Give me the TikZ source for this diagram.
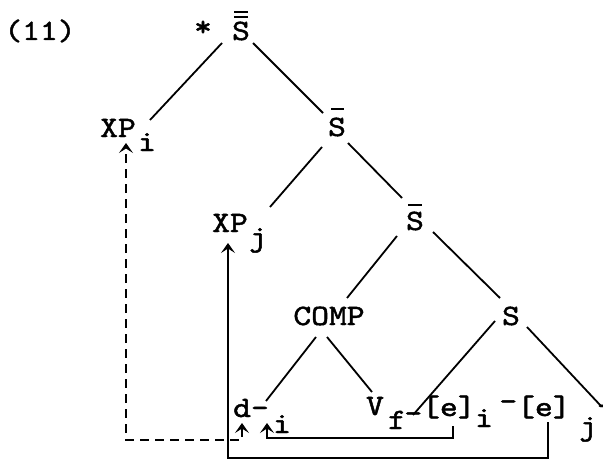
\documentclass[tikz,border=0pt]{standalone}
\usepackage{fontspec}
\usetikzlibrary{calc,arrows.meta}
\newfontfamily\twfam{lmmono10-regular.otf}[FakeStretch=1.15,FakeBold=1.6]
\newcommand{\twfont}{\twfam\fontsize{29.5}{30}\selectfont}
\begin{document}
\begin{tikzpicture}[x=1pt,y=-1pt,
  lab/.style={font=\twfont, inner sep=0pt, anchor=base},
  barline/.style={line width=2pt},
  edge/.style={line width=1.8pt},
  lk/.style={line width=1.8pt},
  tipend/.style={-{Stealth[length=10pt,width=14pt,inset=4.5pt]}},
  tipboth/.style={{Stealth[length=10pt,width=14pt,inset=4.5pt]}-{Stealth[length=10pt,width=14pt,inset=4.5pt]}},
  dashlk/.style={lk, dash pattern=on 9pt off 6pt},
]
\useasboundingbox (0,0) rectangle (603,460);
\fill[white] (0,0) rectangle (603,460);

% labels
\node[lab] (num) at (40,40) {(11)};
\node[lab] (star) at (203,36) {*};
\node[lab] (root) at (241,40) {S};
\node[lab] (xpi) at (118,137) {XP};
\node[lab] (xpii) at (147,151) {i};
\node[lab] (s2) at (337,136) {S};
\node[lab] (xpj) at (230,232) {XP};
\node[lab] (xpjj) at (258,246) {j};
\node[lab] (s3) at (415,230) {S};
\node[lab] (comp) at (329,325) {COMP};
\node[lab] (sS) at (511,325) {S};
\node[lab] (dd) at (251,417) {d-};
\node[lab] (di) at (282,433) {i};
\node[lab] (vv) at (375,415) {V};
\node[lab] (vf) at (397,429) {f};
\node[lab] (e1) at (440,416) {\raisebox{-6.5pt}{-}[e]};
\node[lab] (e1i) at (484,427) {i};
\node[lab] (e2) at (535,416) {\raisebox{5.5pt}{-}[e]};
\node[lab] (e2j) at (597,435) {j\raisebox{20pt}{-}};

% bars over S
\draw[barline] ($(root.base)+(-7,-23)$) -- ($(root.base)+(7,-23)$);
\draw[barline] ($(root.base)+(-7,-28)$) -- ($(root.base)+(7,-28)$);
\draw[barline] ($(s2.base)+(-6,-27)$) -- ($(s2.base)+(7,-27)$);
\draw[barline] ($(s3.base)+(-7,-25)$) -- ($(s3.base)+(7,-25)$);

% tree edges
\draw[edge] ($(root.base)+(-19,3)$) -- ($(xpi.base)+(32,-17)$);
\draw[edge] ($(root.base)+(12,3)$) -- ($(s2.base)+(-14,-23)$);
\draw[edge] ($(s2.base)+(-15,11)$) -- ($(xpj.base)+(40,-25)$);
\draw[edge] ($(s2.base)+(11,7)$) -- ($(s3.base)+(-13,-32)$);
\draw[edge] ($(s3.base)+(-18,6)$) -- ($(comp.base)+(18,-27)$);
\draw[edge] ($(s3.base)+(18,2)$) -- ($(sS.base)+(-11,-27)$);
\draw[edge] ($(comp.base)+(-13,12)$) -- ($(dd.base)+(15,-16)$);
\draw[edge] ($(comp.base)+(-2,12)$) -- ($(vv.base)+(-3,-23)$);
\draw[edge] ($(sS.base)+(-16,-4)$) -- ($(e1.base)+(-27,-1)$);
\draw[edge] ($(sS.base)+(16,2)$) -- ($(e2j.base)+(4,-29)$);

% movement links
\draw[dashlk, tipboth] ($(dd.base)+(-9,6)$) -- ++(0,17) -| ($(xpi.base)+(8,6)$);
\draw[lk, tipend] ($(e1.base)+(13,10)$) -- ++(0,12) -| ($(di.base)+(-15,-10)$);
\draw[lk, tipend] ($(e2.base)+(13,6)$) -- ++(0,36) -| ($(xpj.base)+(-2,11)$);
\end{tikzpicture}
\end{document}
